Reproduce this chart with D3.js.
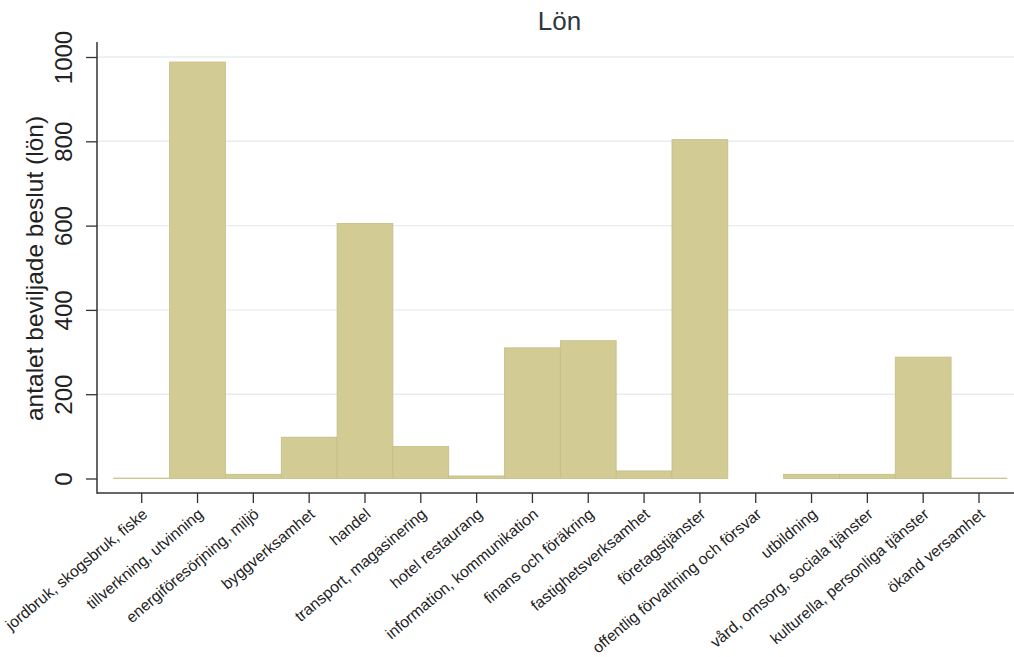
<!DOCTYPE html>
<html>
<head>
<meta charset="utf-8">
<script src="https://cdn.jsdelivr.net/npm/d3@7"></script>
<style>
  body { margin: 0; background: #fff; }
  svg { display: block; }
  text { font-family: "Liberation Sans", Arial, sans-serif; }
</style>
</head>
<body>
<svg id="chart" width="1014" height="657"></svg>
<script>
const categories = [
  "jordbruk, skogsbruk, fiske",
  "tillverkning, utvinning",
  "energiföresörjning, miljö",
  "byggverksamhet",
  "handel",
  "transport, magasinering",
  "hotel restaurang",
  "information, kommunikation",
  "finans och föräkring",
  "fastighetsverksamhet",
  "företagstjänster",
  "offentlig förvaltning och försvar",
  "utbildning",
  "vård, omsorg, sociala tjänster",
  "kulturella, personliga tjänster",
  "ökand versamhet"
];
const values = [1, 988, 10, 98, 605, 76, 6, 310, 327, 18, 804, 0, 10, 10, 288, 1];
const yTicks = [0, 200, 400, 600, 800, 1000];
const titleText = "Lön";
const yTitle = "antalet beviljade beslut (lön)";

const svg = d3.select("#chart");
const x = d3.scaleBand().domain(categories).range([113.8, 1006.9]).padding(0);
const y = d3.scaleLinear().domain([0, 1000]).range([478.5, 57]);

const axisX0 = 97, axisY0 = 493;

// gridlines
svg.append("g").selectAll("line").data(yTicks.filter(d => d > 0)).join("line")
  .attr("x1", axisX0).attr("x2", 1014)
  .attr("y1", d => y(d)).attr("y2", d => y(d))
  .attr("stroke", "#e6edf0").attr("stroke-width", 1.4);

// bars
svg.append("g").selectAll("rect").data(values).join("rect")
  .attr("x", (d, i) => x(categories[i]))
  .attr("width", x.bandwidth())
  .attr("y", d => y(d))
  .attr("height", d => Math.max(0, y(0) - y(d)))
  .attr("fill", "#d2cb94")
  .attr("stroke", "#c4bd86")
  .attr("stroke-width", 0.8);

// y axis
const yAxis = d3.axisLeft(y).tickValues(yTicks).tickSize(11).tickPadding(0).tickFormat(d3.format("d"));
const gy = svg.append("g").attr("transform", `translate(${axisX0},0)`).call(yAxis);
gy.select(".domain").remove();
gy.selectAll(".tick line").attr("stroke", "#333").attr("stroke-width", 1.3);
gy.selectAll(".tick text")
  .attr("transform", "translate(-25,0) rotate(-90)")
  .attr("x", 0).attr("y", 0).attr("dy", 0)
  .attr("text-anchor", "middle")
  .attr("font-size", 24).attr("fill", "#222");
svg.append("line").attr("x1", axisX0).attr("x2", axisX0).attr("y1", 42).attr("y2", axisY0 + 0.7)
  .attr("stroke", "#333").attr("stroke-width", 1.5);

// x axis
const xAxis = d3.axisBottom(x).tickSize(10).tickPadding(0);
const gx = svg.append("g").attr("transform", `translate(0,${axisY0})`).call(xAxis);
gx.select(".domain").remove();
gx.selectAll(".tick line").attr("stroke", "#333").attr("stroke-width", 1.3);
gx.selectAll(".tick text")
  .attr("transform", "translate(3.2,18.6) rotate(-40)")
  .attr("x", 0).attr("y", 0).attr("dy", "0.35em")
  .attr("text-anchor", "end")
  .attr("font-size", 15.8).attr("fill", "#222");
svg.append("line").attr("x1", axisX0).attr("x2", 1014).attr("y1", axisY0).attr("y2", axisY0)
  .attr("stroke", "#333").attr("stroke-width", 1.5);

// titles
svg.append("text").attr("x", 559.5).attr("y", 30).attr("text-anchor", "middle")
  .attr("font-size", 26).attr("fill", "#2f3640").text(titleText);
svg.append("text").attr("transform", "translate(43,268.5) rotate(-90)")
  .attr("text-anchor", "middle").attr("font-size", 24.5).attr("fill", "#222").text(yTitle);
</script>
</body>
</html>
